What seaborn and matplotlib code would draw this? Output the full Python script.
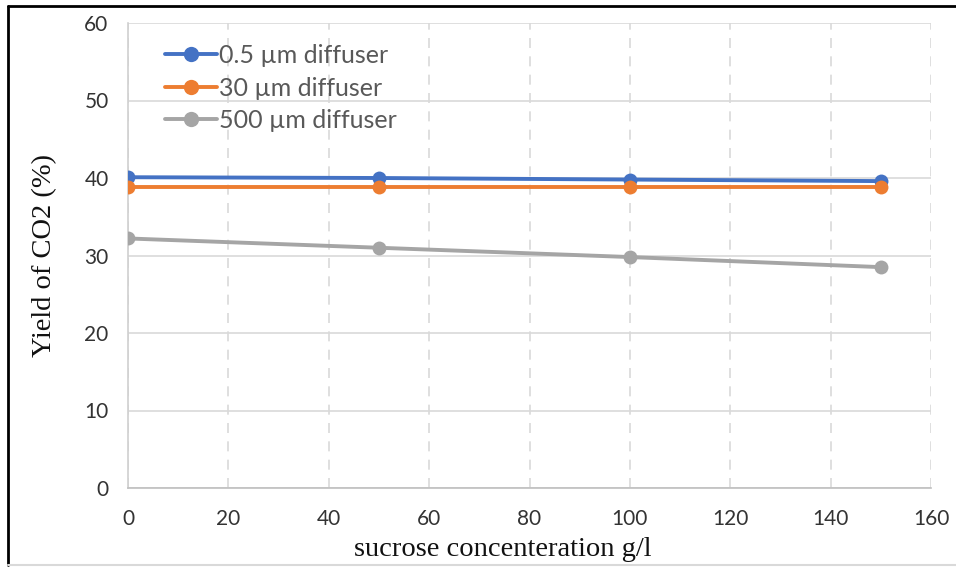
import matplotlib
matplotlib.use("Agg")
import matplotlib.pyplot as plt
import seaborn as sns
import pandas as pd
from matplotlib.lines import Line2D

sucrose = [0, 50, 100, 150]
series_names = ["0.5 µm diffuser", "30 µm diffuser", "500 µm diffuser"]
yield_05 = [40.1, 40.0, 39.8, 39.6]
yield_30 = [38.8, 38.8, 38.8, 38.8]
yield_500 = [32.2, 31.0, 29.8, 28.5]
colors = ["#4472C4", "#ED7D31", "#A5A5A5"]
x_ticks = [0, 20, 40, 60, 80, 100, 120, 140, 160]
y_ticks = [0, 10, 20, 30, 40, 50, 60]

df = pd.DataFrame({
    "x": sucrose * 3,
    "y": yield_05 + yield_30 + yield_500,
    "s": [series_names[0]] * 4 + [series_names[1]] * 4 + [series_names[2]] * 4,
})

sns.set_theme(style="white")
fig = plt.figure(figsize=(9.56, 5.67), dpi=100)
ax = fig.add_axes([128/956, 1-488/567, (931-128)/956, (488-23)/567])

sns.lineplot(data=df, x="x", y="y", hue="s", palette=colors, marker="o",
             markersize=10, markeredgewidth=0, linewidth=2.8, ax=ax, legend=False,
             zorder=3)

ax.set_xlim(0, 160)
ax.set_ylim(0, 60)
ax.set_xticks(x_ticks)
ax.set_yticks(y_ticks)
ax.set_xticklabels([str(t) for t in x_ticks], fontfamily="Lato", fontsize=15, color="#333333")
ax.set_yticklabels([str(t) for t in y_ticks], fontfamily="Lato", fontsize=15, color="#333333")
ax.tick_params(axis="both", length=0)
ax.tick_params(axis="x", pad=15)
ax.tick_params(axis="y", pad=14)

ax.yaxis.grid(True, color="#D9D9D9", linewidth=1.2, linestyle="-")
ax.xaxis.grid(True, color="#D9D9D9", linewidth=1.2, linestyle=(0, (6, 5)))
ax.set_axisbelow(True)
for side in ["top", "right"]:
    ax.spines[side].set_visible(False)
ax.spines["left"].set_color("#D0D0D0")
ax.spines["left"].set_linewidth(1.2)
ax.spines["bottom"].set_color("#BFBFBF")
ax.spines["bottom"].set_linewidth(1.2)

ax.set_xlabel("sucrose concenteration g/l", fontfamily="Liberation Serif", fontsize=20.5, color="#111111", labelpad=0)
ax.xaxis.set_label_coords(0.467, -0.105)
ax.set_ylabel("Yield of CO2 (%)", fontfamily="Liberation Serif", fontsize=20.5, color="#111111")
ax.yaxis.set_label_coords(-0.088, 0.5)

handles = [Line2D([0], [0], color=c, marker="o", markersize=11, markeredgewidth=0, linewidth=2.8)
           for c in colors]
leg = ax.legend(handles, series_names, loc="upper left", bbox_to_anchor=(0.024, 0.992),
                frameon=False, handlelength=2.1, handletextpad=0.05, labelspacing=0.38,
                borderaxespad=0.3, prop={"family": "Lato", "size": 18})
for t in leg.get_texts():
    t.set_color("#595959")

# outer frame lines (top and left black, bottom light)
fig.add_artist(Line2D([8/956, 1], [1-6/567, 1-6/567], color="black", linewidth=2, transform=fig.transFigure))
fig.add_artist(Line2D([8/956, 8/956], [1-6/567, 2/567], color="black", linewidth=2, transform=fig.transFigure))
fig.add_artist(Line2D([8/956, 1], [2/567, 2/567], color="#D9D9D9", linewidth=1.5, transform=fig.transFigure))

fig.savefig("out.png", dpi=100)
